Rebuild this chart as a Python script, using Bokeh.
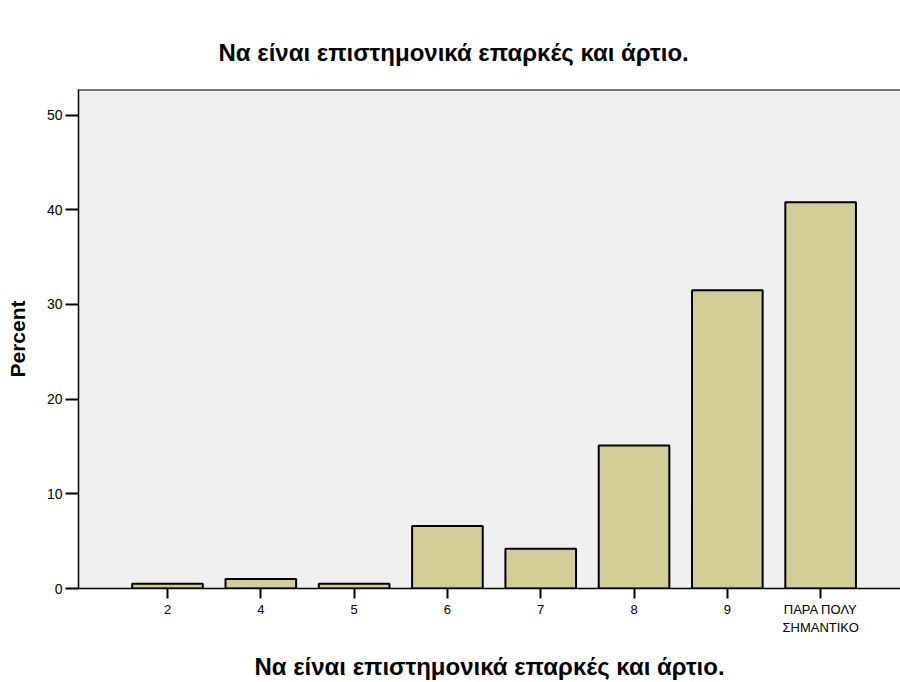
from bokeh.plotting import figure
from bokeh.models import Range1d, FixedTicker, Span, ColumnDataSource
from bokeh.embed import file_html
from bokeh.resources import INLINE

# ---- data ----
categories = ["2", "4", "5", "6", "7", "8", "9", "ΠΑΡΑ ΠΟΛΥ\nΣΗΜΑΝΤΙΚΟ"]
percent = [0.5, 1.0, 0.5, 6.6, 4.2, 15.1, 31.5, 40.8]
y_ticks = [0, 10, 20, 30, 40, 50]
title_text = "Να είναι επιστημονικά επαρκές και άρτιο."
x_label = "Να είναι επιστημονικά επαρκές και άρτιο."
y_label = "Percent"

FONT = "Liberation Sans"
positions = list(range(len(categories)))
src = ColumnDataSource(dict(x=positions, top=percent))

p = figure(width=900, height=682, output_backend="svg", toolbar_location=None,
           x_range=Range1d(-0.954, 7.856), y_range=Range1d(0, 52.7),
           min_border_left=78, min_border_right=0, min_border_top=89,
           min_border_bottom=94)

p.vbar(x="x", top="top", bottom=0, width=0.757, source=src,
       fill_color="#D3CE97", line_color="black", line_width=2)

p.background_fill_color = "#F0F0F0"
p.border_fill_color = "white"
p.outline_line_color = None
p.grid.visible = False

# top frame border
p.add_layout(Span(location=52.7, dimension="width", line_color="black", line_width=2))

# title
p.title.text = title_text
p.title.align = "left"
p.title.vertical_align = "top"
p.title.offset = 140
p.title.standoff = 43
p.title.text_font = FONT
p.title.text_font_style = "bold"
p.title.text_font_size = "24px"
p.title.text_color = "black"

# x axis
xa = p.xaxis[0]
xa.ticker = FixedTicker(ticks=positions)
xa.major_label_overrides = {i: c for i, c in zip(positions, categories)}
xa.major_tick_out = 10
xa.major_tick_in = 0
xa.minor_tick_out = 0
xa.minor_tick_in = 0
xa.major_tick_line_width = 2
xa.axis_line_color = "black"
xa.axis_line_width = 1.5
xa.major_label_text_font = FONT
xa.major_label_text_font_size = "13px"
xa.major_label_text_color = "black"
xa.major_label_standoff = 3
xa.axis_label = x_label
xa.axis_label_text_font = FONT
xa.axis_label_text_font_style = "bold"
xa.axis_label_text_font_size = "24px"
xa.axis_label_text_color = "black"
xa.axis_label_standoff = 15

# y axis
ya = p.yaxis[0]
ya.ticker = FixedTicker(ticks=y_ticks)
ya.major_tick_out = 13
ya.major_tick_in = 0
ya.minor_tick_out = 0
ya.minor_tick_in = 0
ya.major_tick_line_width = 2
ya.axis_line_color = "black"
ya.axis_line_width = 1.5
ya.major_label_text_font = FONT
ya.major_label_text_font_size = "14px"
ya.major_label_text_color = "black"
ya.major_label_standoff = 3
ya.axis_label = y_label
ya.axis_label_text_font = FONT
ya.axis_label_text_font_style = "bold"
ya.axis_label_text_font_size = "21px"
ya.axis_label_text_color = "black"
ya.axis_label_standoff = 15

open("out.html", "w").write(file_html(p, INLINE))
